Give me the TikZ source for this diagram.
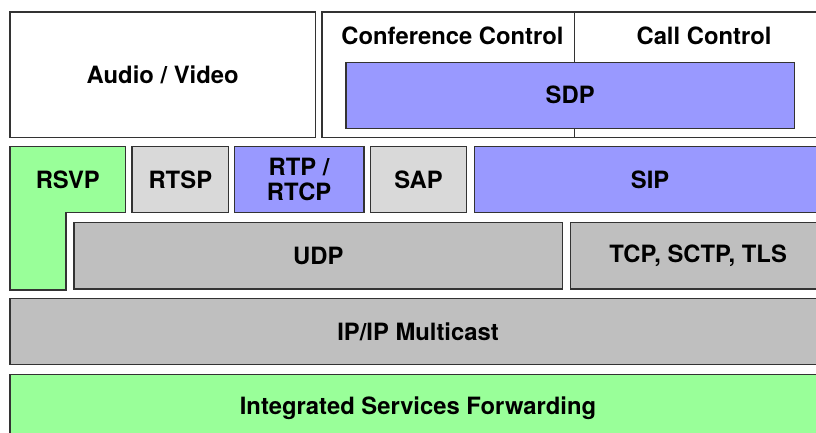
\documentclass[tikz,border=0pt]{standalone}
\usepackage{fontspec}
\setmainfont{TeX Gyre Heros}
\usepackage{tikz}
\definecolor{Lgreen}{HTML}{99FF99}
\definecolor{Lblue}{HTML}{9999FF}
\definecolor{Lgray}{HTML}{D9D9D9}
\definecolor{Dgray}{HTML}{BFBFBF}
\definecolor{edge}{HTML}{333333}
\tikzstyle{box}=[rectangle,draw=edge,line width=1.3pt,fill=white,inner sep=0pt,align=center]
\tikzstyle{Gbox}=[box,fill=Lgreen]
\tikzstyle{Bbox}=[box,fill=Lblue]
\tikzstyle{Lbox}=[box,fill=Lgray]
\tikzstyle{Dbox}=[box,fill=Dgray]
\newcommand{\layerfont}{\fontsize{23.8}{25}\selectfont\bfseries}

\begin{document}
\begin{tikzpicture}[x=1pt,y=-1pt,font=\layerfont]
    \useasboundingbox (0,0) rectangle (816,432);
    % application layer
    \node[box,minimum width=305.3,minimum height=125.7] (AV) at (162.65,74.85) {Audio / Video};
    \node[box,minimum width=504,minimum height=125.7] (Ctrl) at (574,74.85) {};
    \draw[edge,line width=0.8pt] (Ctrl.north) -- (Ctrl.south);
    \node (Conf) at (452.5,36) {Conference Control};
    \node (Call) at (704,36) {Call Control};
    \node[Bbox,minimum width=448.3,minimum height=66] (SDP) at (570.2,95.3) {SDP};
    % signalling and transport protocols
    \draw[draw=edge,line width=1.3pt,fill=Lgreen] (10,146.7) -- (125.7,146.7) -- (125.7,212.7)
        -- (66,212.7) -- (66,290) -- (10,290) -- cycle;
    \node (RSVP) at (67.8,179.7) {RSVP};
    \node[Lbox,minimum width=96.7,minimum height=66] (RTSP) at (180.35,179.7) {RTSP};
    \node[Bbox,minimum width=129.7,minimum height=66] (RTP) at (299.15,179.7) {RTP /\\RTCP};
    \node[Lbox,minimum width=96.4,minimum height=66] (SAP) at (418.5,179.7) {SAP};
    \node[Bbox,minimum width=351.7,minimum height=66] (SIP) at (650.15,179.7) {SIP};
    \node[Dbox,minimum width=488.7,minimum height=66.3] (UDP) at (318.35,255.85) {UDP};
    \node[Dbox,minimum width=255.7,minimum height=66.3] (TCP) at (698.15,255.85) {TCP, SCTP, TLS};
    % network layer
    \node[Dbox,minimum width=816,minimum height=66] (IP) at (418,331.7) {IP/IP Multicast};
    \node[Gbox,minimum width=816,minimum height=68] (ISF) at (418,408.3) {Integrated Services Forwarding};
\end{tikzpicture}
\end{document}
